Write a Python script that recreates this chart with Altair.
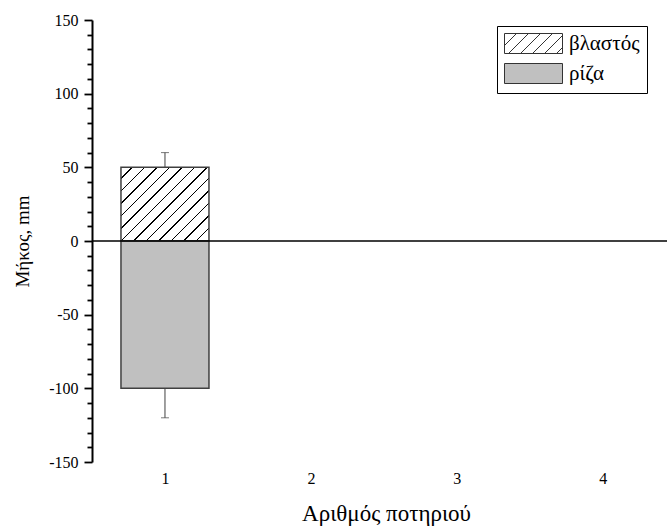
import altair as alt
import pandas as pd

# ---- data ----
pots = [1]
shoot_len = [50]
shoot_err = [10]
root_len = [-100]
root_err = [20]
series_names = ["βλαστός", "ρίζα"]
x_ticks = [1, 2, 3, 4]
y_ticks = list(range(-150, 151, 10))

# ---- layout constants ----
W, H = 575, 442
XDOM = [0.5, 4.44]
YDOM = [-150, 150]
BAR_W = 88
FONT = "Times New Roman, Liberation Serif, serif"
EDGE = "#404040"

# hatch gradient for the shoot bar (45 degree lines)
bar_h = shoot_len[0] * H / (YDOM[1] - YDOM[0])
wh = BAR_W + bar_h
k = wh / (BAR_W ** 2 + bar_h ** 2)
spacing = 12.5 / wh
thick = 1.3 / wh
start = bar_h / wh
centers = []
t = start
while t - spacing > 0:
    t -= spacing
while t < 1:
    centers.append(t)
    t += spacing
stops = [alt.GradientStop(offset=0, color="white")]
for c in centers:
    a = max(0.0, c - thick / 2)
    b = min(1.0, c + thick / 2)
    stops += [alt.GradientStop(offset=a, color="white"),
              alt.GradientStop(offset=a, color="black"),
              alt.GradientStop(offset=b, color="black"),
              alt.GradientStop(offset=b, color="white")]
stops.append(alt.GradientStop(offset=1, color="white"))
hatch = alt.LinearGradient(gradient="linear", stops=stops,
                           x1=0, y1=0, x2=k * BAR_W, y2=k * bar_h)

# legend symbols (custom paths)
rect_path = "M-1,-1L4.8,-1L4.8,1L-1,1Z"
hatch_path = (rect_path +
              " M-1,0.2L0.2,-1 M-0.6,1L1.4,-1 M0.6,1L2.6,-1"
              " M1.8,1L3.8,-1 M3,1L4.8,-0.8 M4.2,1L4.8,0.4")

# ---- tables ----
df_shoot = pd.DataFrame({"pot": pots, "val": shoot_len})
df_root = pd.DataFrame({"pot": pots, "val": root_len})
df_err = pd.DataFrame({
    "pot": pots + pots,
    "val": shoot_len + root_len,
    "hi": [s + e for s, e in zip(shoot_len, shoot_err)] +
          [r - e for r, e in zip(root_len, root_err)],
})
df_leg = pd.DataFrame({
    "pot": pots + pots,
    "val": shoot_len + root_len,
    "series": [series_names[0]] * len(pots) + [series_names[1]] * len(pots),
})
df_zero = pd.DataFrame({"pot": [1], "val": [0]})

xscale = alt.Scale(domain=XDOM, nice=False, zero=False, padding=0)
yscale = alt.Scale(domain=YDOM, nice=False)

xaxis = alt.Axis(values=x_ticks, format="d", domain=False, ticks=False, tickSize=0,
                 grid=False, labelFont=FONT, labelFontSize=16, labelColor="black",
                 labelPadding=8, labelOverlap=False, labelFlush=False,
                 title="Αριθμός ποτηριού", titleFont=FONT, titleFontSize=23,
                 titleFontWeight="normal", titleColor="black",
                 titleX=294, titleY=58, titleBaseline="alphabetic", titleAlign="center")
yaxis = alt.Axis(values=y_ticks, grid=False,
                 labelExpr="datum.value % 50 === 0 ? '' + datum.value : ''",
                 tickSize={"condition": {"test": "datum.value % 50 === 0", "value": 8}, "value": 5},
                 tickColor="black", tickWidth=1.8, domainColor="black", domainWidth=2,
                 labelFont=FONT, labelFontSize=16, labelColor="black", labelPadding=6,
                 labelOverlap=False, labelBound=False, labelFlush=False,
                 title="Μήκος, mm", titleFont=FONT, titleFontSize=19,
                 titleFontWeight="normal", titleColor="black",
                 titleX=-64, titleY=H / 2, titleBaseline="alphabetic", titleAlign="center")

X = alt.X("pot:Q", scale=xscale, axis=xaxis)
Y = alt.Y("val:Q", scale=yscale, axis=yaxis)

shoot_bar = alt.Chart(df_shoot).mark_bar(size=BAR_W, fill=hatch, stroke=EDGE, strokeWidth=1.5).encode(
    x=X, y=Y, y2=alt.datum(0),
)
root_bar = alt.Chart(df_root).mark_bar(size=BAR_W, fill="#c0c0c0", stroke=EDGE, strokeWidth=1.5).encode(
    x=X, y=Y, y2=alt.datum(0),
)
err_stem = alt.Chart(df_err).mark_rule(color=EDGE, strokeWidth=1).encode(
    x=X, y=Y, y2="hi:Q",
)
err_cap = alt.Chart(df_err).mark_tick(orient="horizontal", size=8, thickness=1, color=EDGE).encode(
    x=X, y=alt.Y("hi:Q", scale=yscale, axis=yaxis),
)
zero_line = alt.Chart(df_zero).mark_rule(color="black", strokeWidth=1.5).encode(
    y=Y,
)
legend = alt.Legend(title=None, orient="none", legendX=405, legendY=6,
                    symbolSize=400, symbolStrokeColor="#333", symbolStrokeWidth=1,
                    symbolOpacity=1,
                    labelFont=FONT, labelFontSize=21, labelColor="black", labelOffset=44,
                    strokeColor="black", fillColor="white", padding=7, rowPadding=5,
                    cornerRadius=0)
leg_pts = alt.Chart(df_leg).mark_point(filled=True, size=0, strokeWidth=1).encode(
    x=X, y=Y,
    fill=alt.Fill("series:N", scale=alt.Scale(domain=series_names, range=["white", "#c0c0c0"]),
                  legend=legend),
    stroke=alt.Stroke("series:N", scale=alt.Scale(domain=series_names, range=["#333333", "#333333"]),
                      legend=legend),
    shape=alt.Shape("series:N", scale=alt.Scale(domain=series_names, range=[hatch_path, rect_path]),
                    legend=legend),
)

chart = alt.layer(shoot_bar, root_bar, err_stem, err_cap, zero_line, leg_pts).properties(
    width=W, height=H,
    padding={"left": 92, "top": 20, "right": 0, "bottom": 67},
    autosize=alt.AutoSizeParams(type="none"),
    background="white",
).configure_view(stroke=None)

chart.save("out.html", embed_options={"renderer": "svg", "actions": False})
